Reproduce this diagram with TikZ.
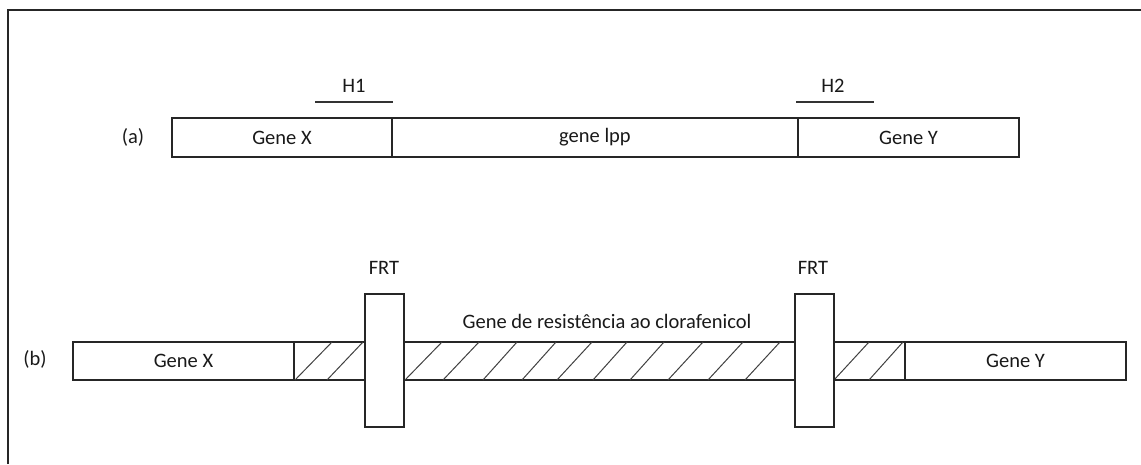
\documentclass[tikz,border=0pt]{standalone}
\usepackage{fontspec}
\setmainfont{Carlito}
\begin{document}
\begin{tikzpicture}[x=1pt,y=-1pt,
  gbox/.style={draw=black!85, line width=1.4pt, rectangle, inner sep=0pt, outer sep=0pt},
  lbl/.style={inner sep=0pt, font=\fontsize{20.5}{24}\selectfont, text=black!90},
  hatch/.style={draw=black!75, line width=1pt},
  frame/.style={draw=black!85, line width=2pt},
  hline/.style={draw=black!80, line width=1.6pt}]
\useasboundingbox (0,0) rectangle (1141,464);
% frame
\draw[frame] (8,464) -- (8,10) -- (1141,10);
% (a)
\node[lbl] (la) at (133,137) {(a)};
\node[gbox, minimum width=220pt, minimum height=39pt] (ax) at (282,137.5) {};
\node[gbox, minimum width=406pt, minimum height=39pt] (alpp) at (595,137.5) {};
\node[gbox, minimum width=221pt, minimum height=39pt] (ay) at (908.5,137.5) {};
\node[lbl] at (ax) {Gene X};
\node[lbl] at (alpp) {gene lpp};
\node[lbl] at (ay) {Gene Y};
\coordinate (h1a) at (315,102); \coordinate (h1b) at (393,102);
\coordinate (h2a) at (796,102); \coordinate (h2b) at (874,102);
\draw[hline] (h1a) -- (h1b);
\draw[hline] (h2a) -- (h2b);
\node[lbl] (h1) at (354,86) {H1};
\node[lbl] (h2) at (833,86) {H2};
% (b)
\node[lbl] (lb) at (35,359) {(b)};
\node[gbox, minimum width=221pt, minimum height=38pt] (bx) at (183.5,361) {};
\node[gbox, minimum width=611pt, minimum height=38pt] (bar) at (599.5,361) {};
\node[gbox, minimum width=221pt, minimum height=38pt] (by) at (1015.5,361) {};
\node[lbl] at (bx) {Gene X};
\node[lbl] at (by) {Gene Y};
\foreach \b/\t in {295/332,327/363,405/442,443/479,483/517,522/556,557/592,593/627,630/664,668/703,708/743,745/780,834/869,869/903}
  \draw[hatch] (\b,380) -- (\t,342);
\node[gbox, fill=white, minimum width=39pt, minimum height=133pt] (frt1) at (384.5,360.5) {};
\node[gbox, fill=white, minimum width=39pt, minimum height=133pt] (frt2) at (814.5,360.5) {};
\node[lbl] at (384,268) {FRT};
\node[lbl] at (813,268) {FRT};
\node[lbl] (res) at (607,321) {Gene de resistência ao clorafenicol};
\end{tikzpicture}
\end{document}
